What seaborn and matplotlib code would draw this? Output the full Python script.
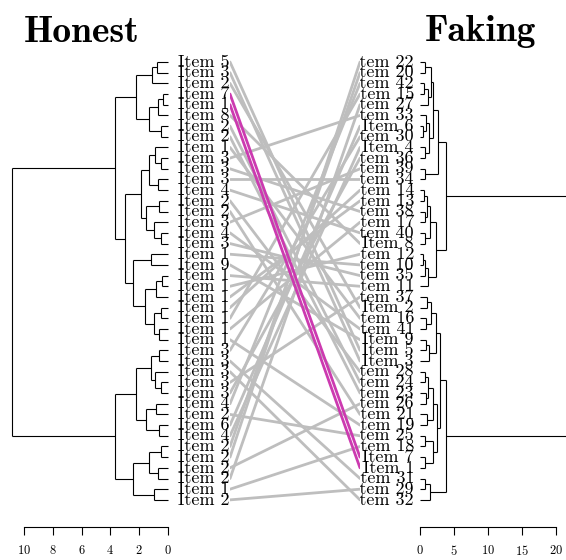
import matplotlib
matplotlib.use("Agg")
import matplotlib.pyplot as plt
import seaborn as sns
import pandas as pd

# ---- data: dendrograms as nested (height, left, right); leaves are item numbers ----
left_tree = (10.8,
             (3.7,
              (2.2,
               (1.1, (0.75, 5, 3), 2),
               (1.3, (0.7, (0.35, 7, 1), 8), (0.5, 24, 23))),
              (3.0,
               (1.9,
                (1.3, (0.9, 16, (0.5, 33, 38)), (0.7, 34, 40)),
                (1.5, (0.6, 28, 21), (1.0, 39, (0.5, 41, 35)))),
               (2.4,
                (1.2, 10, 9),
                (1.6, (0.8, (0.4, 11, 12), 13),
                 (1.0, (0.5, 14, 15), (0.6, 17, 19)))))),
             (3.7,
              (2.2,
               (1.2, (0.6, 30, 31), (0.9, 32, (0.5, 37, 36))),
               (1.5, (0.8, 42, 25), (0.6, 6, 4))),
              (2.4,
               (1.3, (0.5, 20, 22), (0.7, 26, 27)),
               (1.0, 18, 29))))

right_tree = (25.0,
              (3.8,
               (2.6,
                (1.9,
                 (1.6, (0.7, 22, 20), (1.2, (0.6, 42, 15), 27)),
                 (1.3, (0.9, 33, (0.5, 6, 30)), (0.7, 4, 36))),
                (0.8, 39, 34)),
               (2.4,
                (1.5, (1.1, (0.6, 14, 13), (0.7, 38, 17)), (0.8, 40, 8)),
                (1.2, (0.8, (0.5, 12, 10), 35), 11))),
              (3.8,
               (3.0,
                (2.3, (1.6, (1.1, 37, 2), (0.9, 16, 41)), (1.3, (0.9, 9, 5), 3)),
                (2.5, (1.9, (1.2, (0.7, 28, 24), (0.9, 23, 26)), (1.0, 21, 19)),
                 (1.9, (0.8, 25, 18), (0.7, 7, 1)))),
               (1.4, (0.8, 31, 29), 32)))

highlight_items = [7, 1]
left_ticks = [10, 8, 6, 4, 2, 0]
right_ticks = [0, 5, 10, 15, 20]
titles = ["Honest", "Faking"]


def leaves(node):
    if isinstance(node, int):
        return [node]
    return leaves(node[1]) + leaves(node[2])


def segments(node, pos, out):
    # returns (y, h) of node and appends line segments
    if isinstance(node, int):
        return pos[node], 0.0
    h, a, b = node
    ya, ha = segments(a, pos, out)
    yb, hb = segments(b, pos, out)
    out.append(([ha, h], [ya, ya]))
    out.append(([hb, h], [yb, yb]))
    out.append(([h, h], [ya, yb]))
    return (ya + yb) / 2, h


left_order = leaves(left_tree)
right_order = leaves(right_tree)
left_pos = {it: i for i, it in enumerate(left_order)}
right_pos = {it: i for i, it in enumerate(right_order)}

sns.set_theme(style="white")
plt.rcParams['font.family'] = ['cmr10', 'DejaVu Serif']
plt.rcParams['axes.formatter.use_mathtext'] = True
plt.rcParams['text.color'] = 'black'
plt.rcParams['xtick.color'] = 'black'

W, H = 566, 560
fig = plt.figure(figsize=(W / 100, H / 100), dpi=100)
fig.patch.set_facecolor("white")

top_px, bot_px = 40, 527
ylim = ((bot_px - 62) / 10.68, (top_px - 62) / 10.68)
mid_l, mid_r = 230, 360


def add_ax(x0, x1):
    return fig.add_axes([x0 / W, 1 - bot_px / H, (x1 - x0) / W, (bot_px - top_px) / H])


# left dendrogram
axL = add_ax(10, 170)
segs = []
segments(left_tree, left_pos, segs)
for xs, ys in segs:
    axL.plot(xs, ys, color="black", lw=0.8, solid_capstyle="butt")
axL.set_xlim((168 - 10) / 14.4, (168 - 170) / 14.4)
axL.set_ylim(*ylim)

# right dendrogram
axR = add_ax(418, 566)
segs = []
segments(right_tree, right_pos, segs)
for xs, ys in segs:
    axR.plot(xs, ys, color="black", lw=0.8, solid_capstyle="butt")
axR.set_xlim((418 - 420) / 6.8, (566 - 420) / 6.8)
axR.set_ylim(*ylim)

for ax, ticks in [(axL, left_ticks), (axR, right_ticks)]:
    ax.set_facecolor("none")
    for s in ["top", "left", "right"]:
        ax.spines[s].set_visible(False)
    ax.spines["bottom"].set_visible(True)
    ax.spines["bottom"].set_color("black")
    ax.spines["bottom"].set_linewidth(0.8)
    ax.spines["bottom"].set_bounds(min(ticks), max(ticks))
    ax.set_xticks(ticks)
    ax.set_yticks([])
    ax.tick_params(axis="x", direction="out", length=6, width=0.8,
                   color="black", labelcolor="black", labelsize=9, pad=6, bottom=True)

# labels
axLL = add_ax(170, mid_l)
axLL.set_xlim(170, mid_l)
axLL.set_ylim(*ylim)
axLL.axis("off")
for it, i in left_pos.items():
    axLL.text(178, i, f"Item {it}", ha="left", va="center", fontsize=13,
              color="black", clip_on=True)

axRL = add_ax(mid_r, 418)
axRL.set_xlim(mid_r, 418)
axRL.set_ylim(*ylim)
axRL.axis("off")
for it, i in right_pos.items():
    axRL.text(414, i, f"Item {it}", ha="right", va="center", fontsize=13,
              color="black", clip_on=True)

# connecting lines
axM = add_ax(mid_l, mid_r)
rows = []
for it in left_order:
    grp = "common" if it in highlight_items else "other"
    rows.append({"item": it, "x": 0, "y": left_pos[it], "grp": grp})
    rows.append({"item": it, "x": 1, "y": right_pos[it], "grp": grp})
df = pd.DataFrame(rows)
sns.lineplot(data=df[df.grp == "other"], x="x", y="y", units="item", estimator=None,
             color="#BEBEBE", lw=2, ax=axM, sort=False)
sns.lineplot(data=df[df.grp == "common"], x="x", y="y", units="item", estimator=None,
             color="#CC3AB0", lw=2, ax=axM, sort=False)
axM.set_xlim(0, 1)
axM.set_ylim(*ylim)
axM.axis("off")

fig.text(82 / W, 1 - 32 / H, titles[0], ha="center", va="center", fontsize=27,
         color="black", family=["cmb10", "DejaVu Serif"])
fig.text(481 / W, 1 - 32 / H, titles[1], ha="center", va="center", fontsize=27,
         color="black", family=["cmb10", "DejaVu Serif"])

fig.savefig("out.png", dpi=100, facecolor="white")
